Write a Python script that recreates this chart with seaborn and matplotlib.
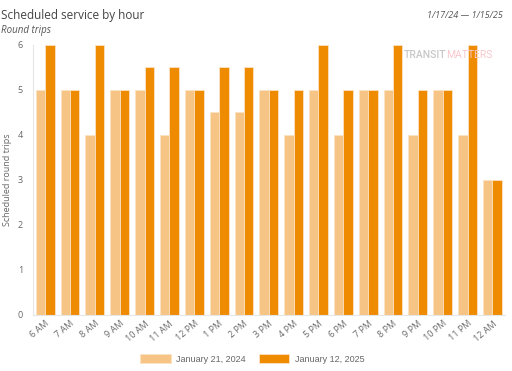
import pandas as pd
import seaborn as sns
import matplotlib.pyplot as plt

hours = ["6 AM", "7 AM", "8 AM", "9 AM", "10 AM", "11 AM", "12 PM", "1 PM", "2 PM",
         "3 PM", "4 PM", "5 PM", "6 PM", "7 PM", "8 PM", "9 PM", "10 PM", "11 PM", "12 AM"]
trips_2024 = [5, 5, 4, 5, 5, 4, 5, 4.5, 4.5, 5, 4, 5, 4, 5, 5, 4, 5, 4, 3]
trips_2025 = [6, 5, 6, 5, 5.5, 5.5, 5, 5.5, 5.5, 5, 5, 6, 5, 5, 6, 5, 5, 6, 3]
series = ["January 21, 2024", "January 12, 2025"]

df = pd.DataFrame({
    "hour": hours * 2,
    "trips": trips_2024 + trips_2025,
    "date": [series[0]] * len(hours) + [series[1]] * len(hours),
})

sns.set_style("white")
plt.rcParams["font.family"] = ["Open Sans", "DejaVu Sans"]

fig = plt.figure(figsize=(5.12, 3.71), dpi=100)
ax = fig.add_axes([0.064, 0.151, 0.922, 0.728])

sns.barplot(data=df, x="hour", y="trips", hue="date", order=hours, hue_order=series,
            palette=["#F6C585", "#EE8B00"], saturation=1, width=0.76,
            edgecolor="#FBE3C4", linewidth=0.6, ax=ax)

ax.set_ylim(0, 6)
ax.set_xlim(-0.5, len(hours) - 0.5)
ax.set_yticks(range(0, 7))
ax.set_xlabel("")
ax.set_ylabel("Scheduled round trips", fontsize=6.5, color="#666666", labelpad=4)
ax.tick_params(axis="y", labelsize=6.5, colors="#666666", length=0, pad=7)
ax.tick_params(axis="x", labelsize=6.5, colors="#666666", length=0, pad=3)
for lbl in ax.get_xticklabels():
    lbl.set_rotation(40)
    lbl.set_ha("right")
    lbl.set_rotation_mode("anchor")

for side in ["top", "right"]:
    ax.spines[side].set_visible(False)
ax.spines["left"].set_color("#E6E6E6")
ax.spines["bottom"].set_color("#E6E6E6")

ax.legend(loc="center", bbox_to_anchor=(0.465, -0.163), ncol=2, frameon=False,
          handlelength=3.4, handleheight=1.1, columnspacing=1.4,
          handletextpad=0.6, labelcolor="#666666",
          prop={"family": "Liberation Sans", "size": 6.5})

fig.text(0.002, 0.977, "Scheduled service by hour", fontsize=8.5, color="#444444",
         ha="left", va="top")
fig.text(0.002, 0.932, "Round trips", fontsize=7, color="#555555", style="italic",
         ha="left", va="top")
fig.text(0.982, 0.97, "1/17/24 \u2014 1/15/25", fontsize=6.5, color="#555555",
         style="italic", ha="right", va="top")

fig.text(0.871, 0.853, "TRANSIT", fontsize=7.5, color="#C8C8C8", ha="right",
         va="center", family="Roboto", weight="medium")
fig.text(0.871, 0.853, "MATTERS", fontsize=7.5, color="#F7C8CC", ha="left",
         va="center", family="Roboto")

fig.savefig("out.png", dpi=100)
